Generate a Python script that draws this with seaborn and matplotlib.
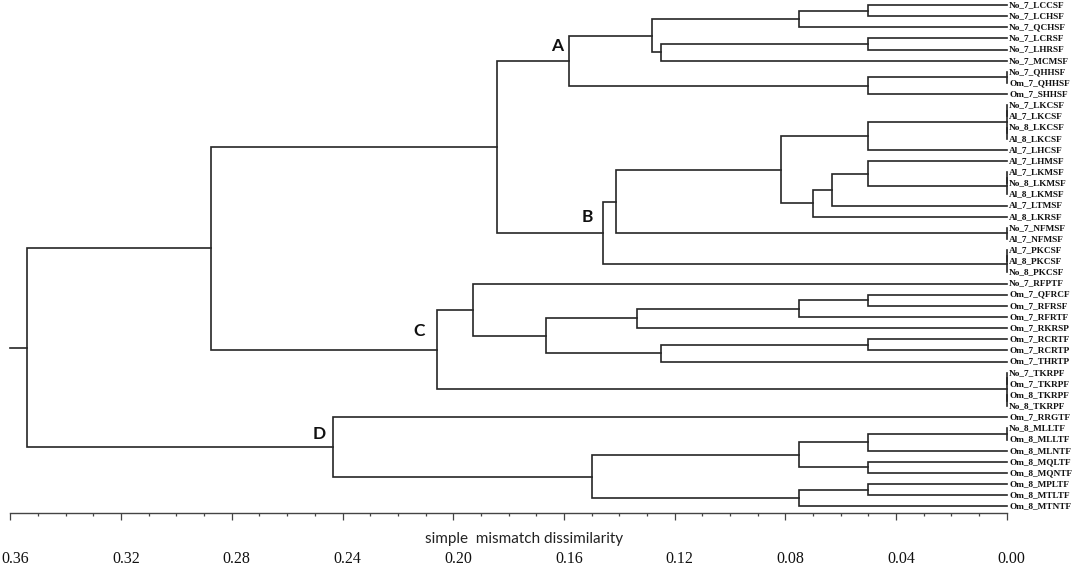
import matplotlib
matplotlib.use("Agg")
import matplotlib.pyplot as plt
import matplotlib.transforms as mtransforms
import numpy as np
import pandas as pd
import seaborn as sns

# ---------------- data ----------------
leaves = [
    "No_7_LCCSF", "No_7_LCHSF", "No_7_QCHSF", "No_7_LCRSF", "No_7_LHRSF",
    "No_7_MCMSF", "No_7_QHHSF", "Om_7_QHHSF", "Om_7_SHHSF", "No_7_LKCSF",
    "Al_7_LKCSF", "No_8_LKCSF", "Al_8_LKCSF", "Al_7_LHCSF", "Al_7_LHMSF",
    "Al_7_LKMSF", "No_8_LKMSF", "Al_8_LKMSF", "Al_7_LTMSF", "Al_8_LKRSF",
    "No_7_NFMSF", "Al_7_NFMSF", "Al_7_PKCSF", "Al_8_PKCSF", "No_8_PKCSF",
    "No_7_RFPTF", "Om_7_QFRCF", "Om_7_RFRSF", "Om_7_RFRTF", "Om_7_RKRSP",
    "Om_7_RCRTF", "Om_7_RCRTP", "Om_7_THRTP", "No_7_TKRPF", "Om_7_TKRPF",
    "Om_8_TKRPF", "No_8_TKRPF", "Om_7_RRGTF", "No_8_MLLTF", "Om_8_MLLTF",
    "Om_8_MLNTF", "Om_8_MQLTF", "Om_8_MQNTF", "Om_8_MPLTF", "Om_8_MTLTF",
    "Om_8_MTNTF",
]

# merges: (node, left child, right child, dissimilarity)
merge_nodes = ["a1", "a2", "a3", "a4", "a5", "a6", "a7", "A",
               "b1", "b2", "b3", "b4", "b6", "b7", "b8", "b9", "b10", "b11",
               "b12", "b13", "b14", "b15", "B", "AB",
               "c1", "c2", "c3", "c4", "c5", "c6", "c7", "c8", "c9", "c10", "C",
               "ABC",
               "d1", "d2", "d3", "d4", "d5", "d6", "d7", "D", "root"]
merge_left = ["No_7_LCCSF", "a1", "No_7_LCRSF", "a3", "a2", "No_7_QHHSF", "a6", "a5",
              "No_7_LKCSF", "No_8_LKCSF", "b1", "b3", "Al_7_LKMSF", "b6", "Al_7_LHMSF",
              "b8", "b9", "b4", "No_7_NFMSF", "b11", "Al_7_PKCSF", "b14", "b13", "A",
              "Om_7_QFRCF", "c1", "c2", "Om_7_RCRTF", "c4", "c3", "No_7_RFPTF",
              "No_7_TKRPF", "Om_8_TKRPF", "c8", "c7",
              "AB",
              "No_8_MLLTF", "d1", "Om_8_MQLTF", "d2", "Om_8_MPLTF", "d5", "d4",
              "Om_7_RRGTF", "ABC"]
merge_right = ["No_7_LCHSF", "No_7_QCHSF", "No_7_LHRSF", "No_7_MCMSF", "a4",
               "Om_7_QHHSF", "Om_7_SHHSF", "a7",
               "Al_7_LKCSF", "Al_8_LKCSF", "b2", "Al_7_LHCSF", "No_8_LKMSF",
               "Al_8_LKMSF", "b7", "Al_7_LTMSF", "Al_8_LKRSF", "b10", "Al_7_NFMSF",
               "b12", "Al_8_PKCSF", "No_8_PKCSF", "b15", "B",
               "Om_7_RFRSF", "Om_7_RFRTF", "Om_7_RKRSP", "Om_7_RCRTP", "Om_7_THRTP",
               "c5", "c6", "Om_7_TKRPF", "No_8_TKRPF", "c9", "c10",
               "C",
               "Om_8_MLLTF", "Om_8_MLNTF", "Om_8_MQNTF", "d3", "Om_8_MTLTF",
               "Om_8_MTNTF", "d6", "d7", "D"]
merge_height = [0.050, 0.075, 0.050, 0.125, 0.128, 0.0, 0.050, 0.158,
                0.0, 0.0, 0.0, 0.050, 0.0, 0.0, 0.050, 0.063, 0.070, 0.0815,
                0.0, 0.141, 0.0, 0.0, 0.146, 0.184,
                0.050, 0.075, 0.1335, 0.050, 0.125, 0.1665, 0.193, 0.0, 0.0, 0.0,
                0.206,
                0.2875,
                0.0, 0.050, 0.050, 0.075, 0.050, 0.075, 0.150, 0.2435, 0.354]
root_stem_end = 0.36

cluster_labels = ["A", "B", "C", "D"]

x_major = np.round(np.arange(0.0, 0.3601, 0.04), 2)
x_minor = np.round(np.arange(0.0, 0.3601, 0.01), 2)
x_label = "simple  mismatch dissimilarity"

# ---------------- compute dendrogram geometry ----------------
pos_y = {name: float(i) for i, name in enumerate(leaves)}
pos_h = {name: 0.0 for name in leaves}
rows = []
for k, (node, l, r, h) in enumerate(zip(merge_nodes, merge_left, merge_right, merge_height)):
    yl, yr = pos_y[l], pos_y[r]
    pts = [(pos_h[l], yl), (h, yl), (h, yr), (pos_h[r], yr)]
    for j, (px, py) in enumerate(pts):
        rows.append({"seg": k, "order": j, "x": px, "y": py})
    pos_y[node] = (yl + yr) / 2.0
    pos_h[node] = h
# root stem
k = len(merge_nodes)
rows.append({"seg": k, "order": 0, "x": pos_h["root"], "y": pos_y["root"]})
rows.append({"seg": k, "order": 1, "x": root_stem_end, "y": pos_y["root"]})
segs = pd.DataFrame(rows)

# ---------------- figure ----------------
sns.set_theme(style="white")
plt.rcParams["font.family"] = ["Liberation Serif", "DejaVu Serif"]

W, H = 1074, 567
fig = plt.figure(figsize=(W / 100, H / 100), dpi=100)
ax_left_px, ax_right_px, ax_bottom_px = 10.4, 1006.7, 513.3
ax = fig.add_axes([ax_left_px / W, 1 - ax_bottom_px / H,
                   (ax_right_px - ax_left_px) / W, ax_bottom_px / H])

line_color = "#262626"
sns.lineplot(data=segs, x="x", y="y", units="seg", estimator=None, sort=False,
             color=line_color, linewidth=1.2, ax=ax, legend=False)
for ln in ax.get_lines():
    ln.set_solid_capstyle("projecting")
    ln.set_solid_joinstyle("miter")
    ln.set_clip_on(False)

ax.set_xlim(0.36, 0.0)
y0_px, dy_px = 5.0, 11.144
ax.set_ylim((ax_bottom_px - y0_px) / dy_px, -y0_px / dy_px)

ax.set_xlabel("")
ax.set_ylabel("")
ax.set_yticks([])
for s in ["left", "top", "right"]:
    ax.spines[s].set_visible(False)
ax.spines["bottom"].set_color("#444444")
ax.spines["bottom"].set_linewidth(1.0)

ax.set_xticks(x_major)
ax.set_xticks(x_minor, minor=True)
ax.set_xticklabels([f"{v:.2f}" for v in x_major])
ax.tick_params(axis="x", which="both", bottom=True, top=False)
ax.tick_params(axis="x", which="major", direction="out", length=5.3, width=0.9,
               color="#444444", pad=22, labelsize=11.5, labelcolor="#111111")
ax.tick_params(axis="x", which="minor", direction="out", length=2.4, width=0.9,
               color="#444444")
shift = mtransforms.ScaledTranslation(5 / 100, 0, fig.dpi_scale_trans)
for lab in ax.get_xticklabels():
    lab.set_transform(lab.get_transform() + shift)
    lab.set_fontfamily(["Liberation Serif", "DejaVu Serif"])

# leaf labels
for i, name in enumerate(leaves):
    ax.annotate(name, (0.0, i), xytext=(2.5, 0), textcoords="offset pixels",
                ha="left", va="center", fontsize=6.7, fontweight="bold",
                family=["Liberation Serif", "DejaVu Serif"], color="#111111",
                annotation_clip=False)

# cluster letters
label_offsets = {"A": (-12.3, 14.4), "B": (-15.3, 16.0), "C": (-17.7, 19.0), "D": (-13.6, 12.8)}
for lab in cluster_labels:
    dx, dy = label_offsets[lab]
    ax.annotate(lab, (pos_h[lab], pos_y[lab]), xytext=(dx, dy), textcoords="offset pixels",
                ha="center", va="center", fontsize=12.5, fontweight="bold",
                family=["Lato", "DejaVu Sans"], color="#111111", annotation_clip=False)

fig.text(524 / W, 1 - 543 / H, x_label, ha="center", va="baseline",
         fontsize=11, family=["Lato", "DejaVu Sans"], color="#222222")

fig.savefig("out.png", dpi=100, facecolor="white")
